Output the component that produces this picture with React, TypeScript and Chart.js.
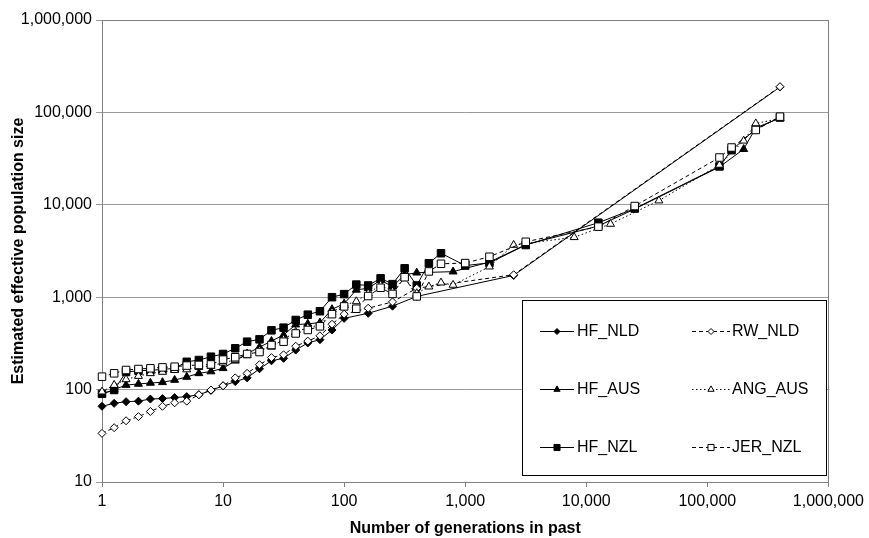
import React, { useEffect, useRef } from 'react';
import { Chart, registerables } from 'chart.js';
import { drawPoint } from 'chart.js/helpers';

Chart.register(...registerables);

// ---- data ----
const X_TICKS = [1, 10, 100, 1000, 10000, 100000, 1000000];
const Y_TICKS = [10, 100, 1000, 10000, 100000, 1000000];

const GEN_FINE = [1, 1.26, 1.58, 2, 2.51, 3.16, 3.98, 5.01, 6.31, 7.94, 10, 12.6, 15.8, 20, 25.1, 31.6, 39.8, 50.1, 63.1, 79.4, 100];
const GEN_MID = [126, 158, 200, 251, 316, 398, 501, 631];

const hfNldGen = [...GEN_FINE, 158, 251, 398, 2512, 398107];
const hfNldNe = [66, 71, 74, 75, 79, 80, 82, 84, 88, 98, 110, 122, 134, 168, 205, 218, 268, 320, 347, 442, 590, 670, 800, 1020, 1720, 188000];

const rwNldGen = [...GEN_FINE, 158, 251, 398, 2512, 398107];
const rwNldNe = [33.6, 38.7, 46, 51, 58, 66, 72, 75, 88, 99, 110, 134, 150, 186, 222, 238, 295, 335, 382, 510, 655, 760, 890, 1250, 1750, 190000];

const hfAusGen = [...GEN_FINE, 126, 158, 200, 251, 316, 398, 794, 1585, 3162, 12589, 25119, 125893, 199526, 251189, 398107];
const hfAusNe = [90, 100, 112, 115, 118, 120, 127, 137, 150, 157, 170, 205, 245, 288, 335, 390, 505, 515, 530, 740, 850, 1200, 1250, 1530, 1300, 1750, 1840, 1890, 2400, 3700, 5900, 9000, 25700, 40000, 68000, 87000];

const angAusGen = [...GEN_FINE, ...GEN_MID, 794, 1585, 2512, 7943, 15849, 39811, 125893, 199526, 251189, 398107];
const angAusNe = [95, 112, 129, 140, 150, 155, 162, 165, 175, 180, 195, 210, 235, 265, 290, 350, 420, 470, 500, 690, 820, 900, 1100, 1350, 1150, 1600, 1100, 1300, 1435, 1356, 2140, 3670, 4450, 6200, 11100, 27000, 49300, 75800, 86000];

const hfNzlGen = [...GEN_FINE, ...GEN_MID, 1000, 1585, 3162, 12589, 25119, 125893, 158489, 251189, 398107];
const hfNzlNe = [90, 99, 155, 160, 162, 165, 170, 200, 209, 227, 243, 280, 330, 350, 438, 468, 567, 647, 705, 1000, 1080, 1370, 1340, 1600, 1385, 2055, 1340, 2330, 2990, 2200, 2350, 3670, 6400, 9100, 26000, 39000, 66000, 88000];

const jerNzlGen = [...GEN_FINE, ...GEN_MID, 1000, 1585, 3162, 12589, 25119, 125893, 158489, 251189, 398107];
const jerNzlNe = [138, 150, 163, 167, 170, 174, 177, 182, 185, 187, 211, 224, 243, 255, 304, 330, 405, 442, 484, 655, 795, 750, 1030, 1265, 1085, 1645, 1020, 1900, 2300, 2340, 2740, 3980, 5800, 9700, 32500, 41700, 64500, 90000];

const LABELS = ['HF_NLD', 'HF_AUS', 'HF_NZL', 'RW_NLD', 'ANG_AUS', 'JER_NZL'];
const X_TITLE = 'Number of generations in past';
const Y_TITLE = 'Estimated effective population size';

// ---- styles ----
const FONT = 'Arial, "Liberation Sans", sans-serif';
const STYLES = [
  { gen: hfNldGen, ne: hfNldNe, shape: 'rectRot', r: 4, fill: '#000', dash: [] as number[] },
  { gen: hfAusGen, ne: hfAusNe, shape: 'triangle', r: 4.6, fill: '#000', dash: [] as number[] },
  { gen: hfNzlGen, ne: hfNzlNe, shape: 'rect', r: 5.3, fill: '#000', dash: [] as number[] },
  { gen: rwNldGen, ne: rwNldNe, shape: 'rectRot', r: 4, fill: '#fff', dash: [4, 3] },
  { gen: angAusGen, ne: angAusNe, shape: 'triangle', r: 4.6, fill: '#fff', dash: [1.5, 2.5] },
  { gen: jerNzlGen, ne: jerNzlNe, shape: 'rect', r: 5.3, fill: '#fff', dash: [4, 3] },
];

const fmt = (v: number) => Number(v).toLocaleString('en-US');

const datasets = STYLES.map((s, i) => ({
  label: LABELS[i],
  data: s.gen.map((g, j) => ({ x: g, y: s.ne[j] })),
  showLine: true,
  borderColor: '#000',
  borderWidth: 1,
  borderDash: s.dash,
  pointStyle: s.shape,
  pointRadius: s.r,
  pointHoverRadius: s.r,
  pointBackgroundColor: s.fill,
  pointBorderColor: '#000',
  pointBorderWidth: 1,
  clip: false as any,
  order: 10 - i,
}));

const framePlugin = {
  id: 'frame',
  beforeDatasetsDraw(chart: any) {
    const { ctx, chartArea: a } = chart;
    ctx.save();
    ctx.strokeStyle = '#808080';
    ctx.lineWidth = 1;
    ctx.strokeRect(Math.round(a.left) + 0.5, Math.round(a.top) + 0.5, Math.round(a.right - a.left), Math.round(a.bottom - a.top));
    ctx.restore();
  },
};

const titlePlugin = {
  id: 'titles',
  afterDraw(chart: any) {
    const { ctx, chartArea: a } = chart;
    ctx.save();
    ctx.fillStyle = '#000';
    ctx.font = `bold 16px ${FONT}`;
    ctx.textAlign = 'center';
    ctx.textBaseline = 'middle';
    ctx.fillText(X_TITLE, (a.left + a.right) / 2, 529);
    ctx.translate(19, (a.top + a.bottom) / 2);
    ctx.rotate(-Math.PI / 2);
    ctx.fillText(Y_TITLE, 0, 0);
    ctx.restore();
  },
};

const legendPlugin = {
  id: 'boxLegend',
  afterDraw(chart: any) {
    const { ctx } = chart;
    const L = 522, T = 300, W = 304, H = 175;
    ctx.save();
    ctx.fillStyle = '#fff';
    ctx.fillRect(L, T, W, H);
    ctx.strokeStyle = '#000';
    ctx.lineWidth = 1;
    ctx.strokeRect(L + 0.5, T + 0.5, W, H);
    const rows = [31, 89, 147];
    const cols = [
      { x0: L + 18, x1: L + 52, tx: L + 55 },
      { x0: L + 170, x1: L + 208, tx: L + 210 },
    ];
    STYLES.forEach((s, i) => {
      const c = cols[Math.floor(i / 3)];
      const y = T + rows[i % 3] + 0.5;
      ctx.strokeStyle = '#000';
      ctx.lineWidth = 1;
      ctx.setLineDash(s.dash);
      ctx.beginPath();
      ctx.moveTo(c.x0, y);
      ctx.lineTo(c.x1, y);
      ctx.stroke();
      ctx.setLineDash([]);
      ctx.fillStyle = s.fill;
      drawPoint(ctx, { pointStyle: s.shape as any, radius: s.r - 1, rotation: 0, borderWidth: 1 } as any, (c.x0 + c.x1) / 2, y);
      ctx.fillStyle = '#000';
      ctx.font = `16px ${FONT}`;
      ctx.textAlign = 'left';
      ctx.textBaseline = 'middle';
      ctx.fillText(LABELS[i], c.tx, y);
    });
    ctx.restore();
  },
};

export default function App() {
  const ref = useRef<HTMLCanvasElement>(null);
  useEffect(() => {
    document.body.style.margin = '0';
    const chart = new Chart(ref.current as HTMLCanvasElement, {
      type: 'scatter',
      data: { datasets: datasets as any },
      options: {
        animation: false,
        responsive: false,
        devicePixelRatio: 1,
        layout: { padding: { left: 0, right: 36, top: 20, bottom: 0 } },
        plugins: { legend: { display: false }, tooltip: { enabled: false } },
        scales: {
          x: {
            type: 'logarithmic',
            min: 1,
            max: 1000000,
            afterBuildTicks: (s: any) => { s.ticks = X_TICKS.map((v) => ({ value: v })); },
            afterFit: (s: any) => { s.height = 56; },
            ticks: { font: { family: FONT, size: 16 }, color: '#000', padding: 5, maxRotation: 0, autoSkip: false, callback: (v: any) => fmt(v) },
            grid: { drawOnChartArea: false, drawTicks: true, tickLength: 5, color: '#808080' },
            border: { color: '#808080' },
          },
          y: {
            type: 'logarithmic',
            min: 10,
            max: 1000000,
            afterBuildTicks: (s: any) => { s.ticks = Y_TICKS.map((v) => ({ value: v })); },
            afterFit: (s: any) => { s.width = 102; },
            ticks: { font: { family: FONT, size: 16 }, color: '#000', padding: 4, autoSkip: false, callback: (v: any) => fmt(v) },
            grid: { color: '#999999', tickLength: 6, drawTicks: true },
            border: { color: '#808080' },
          },
        },
      } as any,
      plugins: [framePlugin, titlePlugin, legendPlugin],
    });
    return () => chart.destroy();
  }, []);
  return (
    <div style={{ width: 869, height: 538 }}>
      <canvas ref={ref} width={869} height={538} style={{ display: 'block' }} />
    </div>
  );
}
